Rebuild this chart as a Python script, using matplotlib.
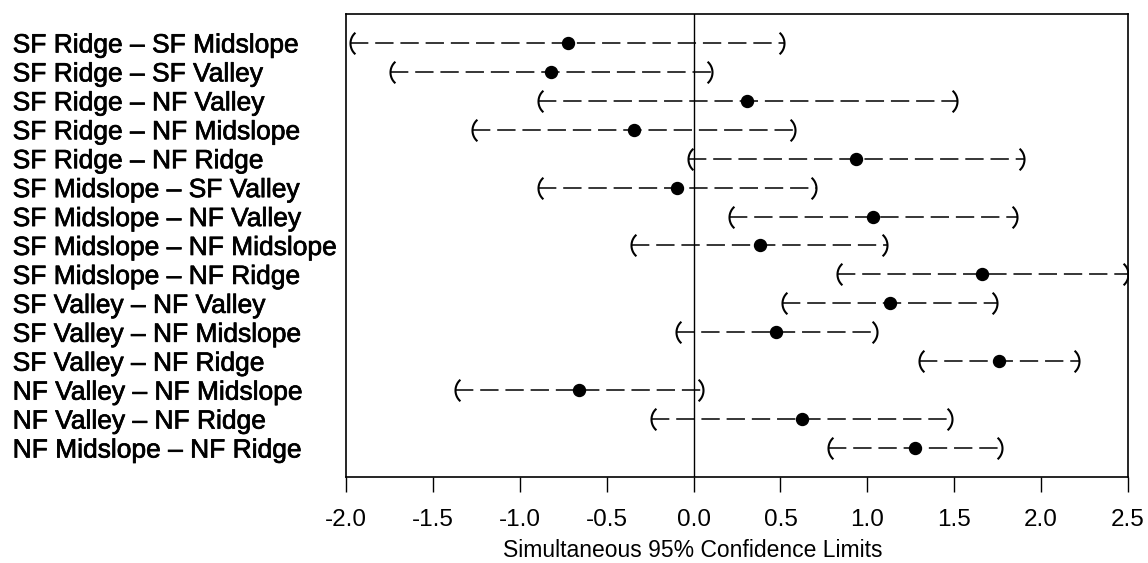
import matplotlib
matplotlib.use("Agg")
import matplotlib.pyplot as plt
import matplotlib.patheffects as pe
import numpy as np
from matplotlib.path import Path

plt.rcParams['font.family'] = ['Liberation Sans', 'DejaVu Sans']

comparisons = [
    "SF Ridge – SF Midslope",
    "SF Ridge – SF Valley",
    "SF Ridge – NF Valley",
    "SF Ridge – NF Midslope",
    "SF Ridge – NF Ridge",
    "SF Midslope – SF Valley",
    "SF Midslope – NF Valley",
    "SF Midslope – NF Midslope",
    "SF Midslope – NF Ridge",
    "SF Valley – NF Valley",
    "SF Valley – NF Midslope",
    "SF Valley – NF Ridge",
    "NF Valley – NF Midslope",
    "NF Valley – NF Ridge",
    "NF Midslope – NF Ridge",
]
estimate = [-0.725, -0.82, 0.31, -0.345, 0.935, -0.098, 1.032, 0.38,
            1.662, 1.128, 0.477, 1.756, -0.657, 0.624, 1.276]
lower = [-1.977, -1.747, -0.896, -1.276, -0.032, -0.896, 0.202, -0.358,
         0.827, 0.51, -0.099, 1.297, -1.37, -0.243, 0.772]
upper = [0.519, 0.107, 1.518, 0.586, 1.902, 0.702, 1.86, 1.115,
         2.497, 1.748, 1.057, 2.218, 0.055, 1.489, 1.777]
xticks = [-2.0, -1.5, -1.0, -0.5, 0.0, 0.5, 1.0, 1.5, 2.0, 2.5]


def bracket(side):
    # arc shaped like a parenthesis, anchored at its outermost point
    a = np.radians(49)
    th = np.linspace(-a, a, 25)
    r = 1 / np.sin(a)
    x = r - r * np.cos(th)
    y = r * np.sin(th)
    if side == "right":
        x = -x
    return Path(np.column_stack([x, y]))


fig = plt.figure(figsize=(11.48, 5.63), dpi=100)
ax = fig.add_axes([0.3014, 0.1528, 0.6812, 0.8223])

rows = np.arange(1, len(comparisons) + 1)

ax.axvline(0, color="black", lw=1.0, zorder=1)

for y, lo, est, hi in zip(rows, lower, estimate, upper):
    ax.plot([lo, hi], [y, y], color="black", lw=1.1,
            linestyle=(0, (12, 4.5)), zorder=2)
    ax.plot(lo, y, marker=bracket("left"), ms=15.5, mfc="none",
            mec="black", mew=1.5, zorder=3)
    ax.plot(hi, y, marker=bracket("right"), ms=15.5, mfc="none",
            mec="black", mew=1.5, zorder=3)
    ax.plot(est, y, "o", color="black", ms=8.6, zorder=4)

ax.set_xlim(-2.0, 2.5)
ax.set_ylim(16, 0)
ax.set_xticks(xticks)
ax.set_xticklabels([f"{t:.1f}" for t in xticks], fontsize=17.5)
ax.tick_params(axis="x", length=10.8, width=1.0, pad=12)

ax.set_yticks(rows)
ax.set_yticklabels(comparisons, fontsize=19)
ax.tick_params(axis="y", length=0, pad=240)
for lbl in ax.get_yticklabels():
    lbl.set_ha("left")
    # the comparison names are rendered a little heavier
    lbl.set_path_effects([pe.withStroke(linewidth=0.5, foreground="black")])

for s in ax.spines.values():
    s.set_linewidth(1.2)

ax.set_xlabel("Simultaneous 95% Confidence Limits", fontsize=16.5, labelpad=6)
ax.xaxis.set_label_coords(0.444, -0.135)

fig.savefig("out.png", dpi=100)
